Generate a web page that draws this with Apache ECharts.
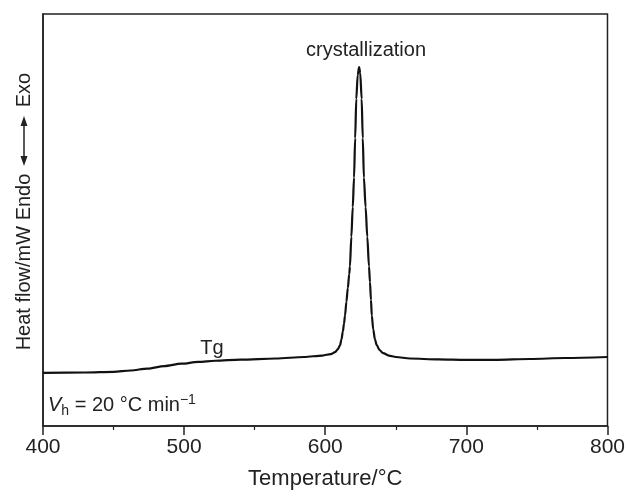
<!DOCTYPE html>
<html>
<head>
<meta charset="utf-8">
<script src="https://cdn.jsdelivr.net/npm/echarts@6/dist/echarts.min.js"></script>
<style>html,body{margin:0;padding:0;background:#fff;}#c{width:628px;height:495px;}</style>
</head>
<body>
<div id="c"></div>
<script>
// Temperature (°C)
var temps = [400,430,450,462,474,486,498,510,522,540,565,585,598,604,607,609,610.5,611.5,612.5,613.3,614,615,616,617,617.5,618.5,619.5,620.4,621.2,622,623,624,624.8,625.8,626.6,627.4,628.6,629.8,631,631.7,632.4,633,634,635.2,636.5,638.5,641,645,650,660,680,700,720,745,770,800];
// Heat flow (arbitrary units, exo up)
var heatFlow = [54,54.3,55,56.3,58.3,60.8,63.2,65,66.2,67.3,68.5,70,71.5,73,75,78,82,88,96,104,112,126,140,154,162,192,222,252,292,332,356,364,358,332,292,252,222,192,162,146,128,112,98,88,82,77,74,71.5,70,68.5,67.5,67,67,68,69,70];
var xTicks = [400,500,600,700,800];

var FONT = '"Liberation Sans", Arial, sans-serif';
var chart = echarts.init(document.getElementById('c'));
var data = temps.map(function(t,i){return [t, heatFlow[i]];});
chart.setOption({
  animation:false,
  backgroundColor:'#fff',
  grid:{left:43,right:15,top:14,bottom:63,show:true,borderColor:'#222',borderWidth:1.5},
  xAxis:{type:'value',min:400,max:800,interval:100,
    axisLine:{lineStyle:{color:'#222',width:1.5}},
    axisTick:{inside:false,length:9,lineStyle:{color:'#222',width:1.5}},
    minorTick:{show:true,splitNumber:2,length:4,lineStyle:{color:'#222',width:1.2}},
    splitLine:{show:false},
    axisLabel:{color:'#222',fontFamily:FONT,fontSize:21,margin:11,
      formatter:function(v){return xTicks.indexOf(v)>=0?String(v):'';}},
    name:'Temperature/°C',nameLocation:'middle',nameGap:42,
    nameTextStyle:{color:'#222',fontFamily:FONT,fontSize:22}},
  yAxis:{type:'value',min:0,max:418,
    axisLine:{show:true,lineStyle:{color:'#222',width:1.5}},
    axisTick:{show:false},axisLabel:{show:false},splitLine:{show:false}},
  series:[{type:'line',data:data,showSymbol:false,smooth:0.3,smoothMonotone:'x',
    lineStyle:{color:'#111',width:2.2}}],
  graphic:[
    {type:'text',x:24,y:262,rotation:Math.PI/2,
      style:{text:'Heat flow/mW Endo',font:'20px '+FONT,fill:'#222',textAlign:'center',textVerticalAlign:'middle'}},
    {type:'line',shape:{x1:24,y1:122,x2:24,y2:160},style:{stroke:'#222',lineWidth:1.5}},
    {type:'polygon',shape:{points:[[24,116],[20.5,126],[27.5,126]]},style:{fill:'#222'}},
    {type:'polygon',shape:{points:[[24,166],[20.5,156],[27.5,156]]},style:{fill:'#222'}},
    {type:'text',x:24,y:90,rotation:Math.PI/2,
      style:{text:'Exo',font:'20px '+FONT,fill:'#222',textAlign:'center',textVerticalAlign:'middle'}},
    {type:'text',x:366,y:50,
      style:{text:'crystallization',font:'20px '+FONT,fill:'#222',textAlign:'center',textVerticalAlign:'middle'}},
    {type:'text',x:212,y:348,
      style:{text:'Tg',font:'20px '+FONT,fill:'#222',textAlign:'center',textVerticalAlign:'middle'}},
    {type:'text',x:48,y:405,
      style:{text:'{v|V}{s|h}{t| = 20 °C min}{p|−1}',textVerticalAlign:'middle',
        rich:{v:{fontFamily:FONT,fontSize:20,fontStyle:'italic',fill:'#222'},
              s:{fontFamily:FONT,fontSize:14,fill:'#222',padding:[12,0,0,0]},
              t:{fontFamily:FONT,fontSize:20,fill:'#222'},
              p:{fontFamily:FONT,fontSize:14,fill:'#222',padding:[0,0,10,0]}}}}
  ]
});
</script>
</body>
</html>
